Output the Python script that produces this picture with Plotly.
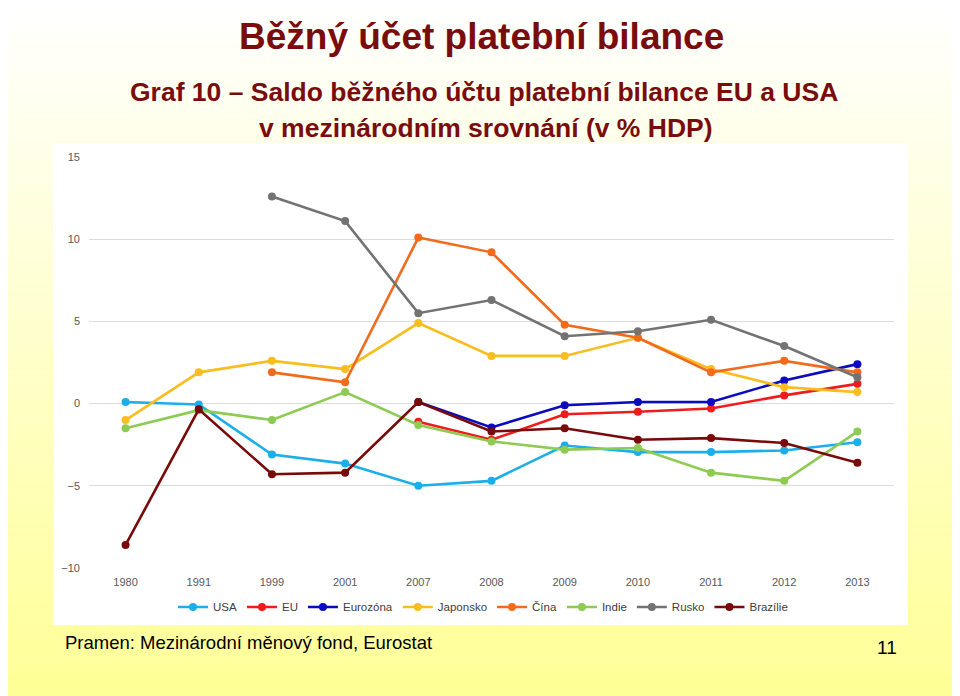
import plotly.graph_objects as go

years = ["1980", "1991", "1999", "2001", "2007", "2008", "2009", "2010", "2011", "2012", "2013"]

usa = [0.1, -0.05, -3.1, -3.65, -5.0, -4.7, -2.55, -2.95, -2.95, -2.85, -2.35]
eu = [None, None, None, None, -1.1, -2.2, -0.65, -0.5, -0.3, 0.5, 1.2]
eurozona = [None, None, None, None, 0.1, -1.45, -0.1, 0.1, 0.1, 1.4, 2.4]
japonsko = [-1.0, 1.9, 2.6, 2.1, 4.9, 2.9, 2.9, 4.0, 2.1, 1.0, 0.7]
cina = [None, None, 1.9, 1.3, 10.1, 9.2, 4.8, 4.0, 1.9, 2.6, 1.9]
indie = [-1.5, -0.4, -1.0, 0.7, -1.3, -2.3, -2.8, -2.7, -4.2, -4.7, -1.7]
rusko = [None, None, 12.6, 11.1, 5.5, 6.3, 4.1, 4.4, 5.1, 3.5, 1.6]
brazilie = [-8.6, -0.35, -4.3, -4.2, 0.1, -1.7, -1.5, -2.2, -2.1, -2.4, -3.6]

series = [
    ("USA", usa, "#1CAEE8"),
    ("EU", eu, "#EE1C1C"),
    ("Eurozóna", eurozona, "#0A0ABE"),
    ("Japonsko", japonsko, "#F8BD1E"),
    ("Čína", cina, "#F26B1D"),
    ("Indie", indie, "#8DCB52"),
    ("Rusko", rusko, "#737373"),
    ("Brazílie", brazilie, "#780A0A"),
]

# page body has an 8px margin; work in screen coordinates and shift
OFF = 8
W, H = 960, 696
PL, PR, PT, PB = 89 - OFF, 894 - OFF, 156.5 - OFF, 568 - OFF

def px(x):
    return (x - OFF - PL) / (PR - PL)

def py(y):
    return (PB - (y - OFF)) / (PB - PT)

fig = go.Figure()
for name, vals, col in series:
    fig.add_trace(go.Scatter(
        x=years, y=vals, name=name, mode="lines+markers",
        line=dict(color=col, width=2.6),
        marker=dict(color=col, size=8),
        connectgaps=False,
    ))

shapes = []
n = 70
top_c = (255, 255, 255)
bot_c = (255, 255, 150)
for i in range(n):
    y0 = (H + OFF) * i / n
    y1 = (H + OFF) * (i + 1) / n + 1
    t = (i + 0.5) / n
    c = tuple(round(top_c[k] + (bot_c[k] - top_c[k]) * t) for k in range(3))
    shapes.append(dict(type="rect", xref="paper", yref="paper", layer="below",
                       x0=px(0), x1=px(W + OFF), y0=py(y1), y1=py(y0),
                       fillcolor="rgb(%d,%d,%d)" % c, line=dict(width=0)))
shapes.append(dict(type="rect", xref="paper", yref="paper", layer="below",
                   x0=px(53), x1=px(908), y0=py(625), y1=py(143),
                   fillcolor="white", line=dict(width=0)))

title_col = "#7A0C0C"
font = "Arial, Liberation Sans, sans-serif"
annotations = [
    dict(text="<b>Běžný účet platební bilance</b>", x=px(481), y=py(36), xref="paper", yref="paper",
         showarrow=False, font=dict(size=37, color=title_col, family=font), xanchor="center", yanchor="middle"),
    dict(text="<b>Graf 10 – Saldo běžného účtu platební bilance EU a USA</b>", x=px(484), y=py(91), xref="paper", yref="paper",
         showarrow=False, font=dict(size=26.5, color=title_col, family=font), xanchor="center", yanchor="middle"),
    dict(text="<b>v mezinárodním srovnání (v % HDP)</b>", x=px(486), y=py(127), xref="paper", yref="paper",
         showarrow=False, font=dict(size=26.5, color=title_col, family=font), xanchor="center", yanchor="middle"),
    dict(text="Pramen: Mezinárodní měnový fond, Eurostat", x=px(63), y=py(643), xref="paper", yref="paper",
         showarrow=False, font=dict(size=18.5, color="black", family=font), xanchor="left", yanchor="middle"),
    dict(text="11", x=px(887), y=py(648), xref="paper", yref="paper",
         showarrow=False, font=dict(size=19, color="black", family=font), xanchor="center", yanchor="middle"),
]

fig.update_layout(
    width=W, height=H,
    margin=dict(l=PL, r=W - PR, t=PT, b=H - PB, pad=0),
    paper_bgcolor="white",
    plot_bgcolor="rgba(0,0,0,0)",
    font=dict(family=font, color="#595959", size=11),
    showlegend=True,
    legend=dict(orientation="h", x=px(483), xanchor="center", y=py(607), yanchor="middle",
                font=dict(size=11.5, color="#404040"), itemwidth=30, bgcolor="rgba(0,0,0,0)",
                tracegroupgap=0),
    shapes=shapes,
    annotations=annotations,
    xaxis=dict(type="category", categoryorder="array", categoryarray=years,
               range=[-0.5, 10.5], showgrid=False, zeroline=False, showline=False,
               ticks="", tickfont=dict(size=11, color="#595959"), ticklabelstandoff=6),
    yaxis=dict(range=[-10, 15], tickvals=[-10, -5, 0, 5, 10, 15], showgrid=True,
               gridcolor="#DDDDDD", gridwidth=1, zeroline=False, showline=False,
               ticks="", tickfont=dict(size=11, color="#595959"), ticklabelstandoff=8),
)

fig.write_html("out.html")
